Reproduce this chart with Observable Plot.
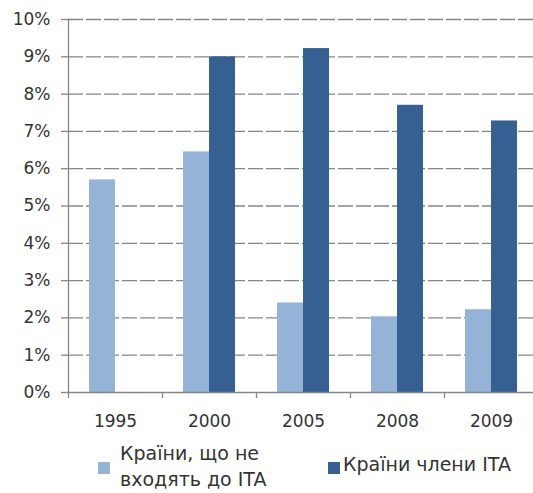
<!DOCTYPE html>
<html>
<head>
<meta charset="utf-8">
<script src="https://cdn.jsdelivr.net/npm/d3@7"></script>
<script src="https://cdn.jsdelivr.net/npm/@observablehq/plot@0.6"></script>
<style>
  html, body { margin: 0; padding: 0; background: #fff; }
  #wrap { position: relative; width: 533px; height: 493px; overflow: hidden; font-family: "DejaVu Sans", sans-serif; color: #333; }
  #legend { position: absolute; left: 0; top: 440px; width: 533px; height: 53px; font-size: 19px; }
  .sw { position: absolute; width: 12px; height: 12px; }
  .lt { position: absolute; line-height: 25.5px; white-space: nowrap; }
</style>
</head>
<body>
<div id="wrap">
  <div id="chart"></div>
  <div id="legend"></div>
</div>
<script>
const years = ["1995", "2000", "2005", "2008", "2009"];
const nonITA = [5.7, 6.45, 2.4, 2.03, 2.22];
const ITA = [null, 9.0, 9.22, 7.7, 7.28];
const seriesNames = ["Країни, що не входять до ITA", "Країни члени ITA"];
const seriesColors = ["#95b3d7", "#376092"];
const yTicks = [0, 1, 2, 3, 4, 5, 6, 7, 8, 9, 10];

const rowsNon = years.map((y, i) => ({year: y, value: nonITA[i]}));
const rowsITA = years.map((y, i) => ({year: y, value: ITA[i]})).filter(d => d.value != null);

const axisColor = "#868686";

const chart = Plot.plot({
  width: 533,
  height: 440,
  marginTop: 19,
  marginBottom: 48,
  marginLeft: 68,
  marginRight: 0,
  style: {fontFamily: "DejaVu Sans", fontSize: "17px", color: "#333", background: "white", overflow: "hidden"},
  x: {type: "band", domain: years, range: [68, 538], padding: 0, label: null},
  y: {domain: [0, 10], label: null},
  marks: [
    Plot.gridY(yTicks.filter(d => d > 0), {stroke: axisColor, strokeOpacity: 1, strokeWidth: 1.3, strokeDasharray: "15,3"}),
    Plot.barY(rowsNon, {x: "year", y: "value", fill: seriesColors[0], insetLeft: 21, insetRight: 47}),
    Plot.barY(rowsITA, {x: "year", y: "value", fill: seriesColors[1], insetLeft: 47, insetRight: 21}),
    Plot.frame({anchor: "left", stroke: axisColor, strokeWidth: 1.3}),
    Plot.frame({anchor: "bottom", stroke: axisColor, strokeWidth: 1.3}),
    Plot.axisY(yTicks, {tickSize: 7, tickPadding: 11, tickFormat: d => d + "%", stroke: axisColor, strokeWidth: 1.3, fill: "#333"}),
    Plot.axisX({tickSize: 6, tickFormat: () => "", dx: -47, stroke: axisColor, strokeWidth: 1.3}),
    Plot.axisX({tickSize: 0, tickPadding: 22, fill: "#333"})
  ]
});
document.getElementById("chart").appendChild(chart);

const legend = document.getElementById("legend");
const items = [
  {sx: 98, sy: 22, tx: 120, ty: 1, lines: ["Країни, що не", "входять до ITA"]},
  {sx: 328, sy: 22, tx: 343, ty: 12, lines: [seriesNames[1]]}
];
items.forEach((it, i) => {
  const s = document.createElement("div");
  s.className = "sw";
  s.style.left = it.sx + "px";
  s.style.top = it.sy + "px";
  s.style.background = seriesColors[i];
  legend.appendChild(s);
  const t = document.createElement("div");
  t.className = "lt";
  t.style.left = it.tx + "px";
  t.style.top = it.ty + "px";
  t.innerHTML = it.lines.join("<br>");
  legend.appendChild(t);
});
</script>
</body>
</html>
